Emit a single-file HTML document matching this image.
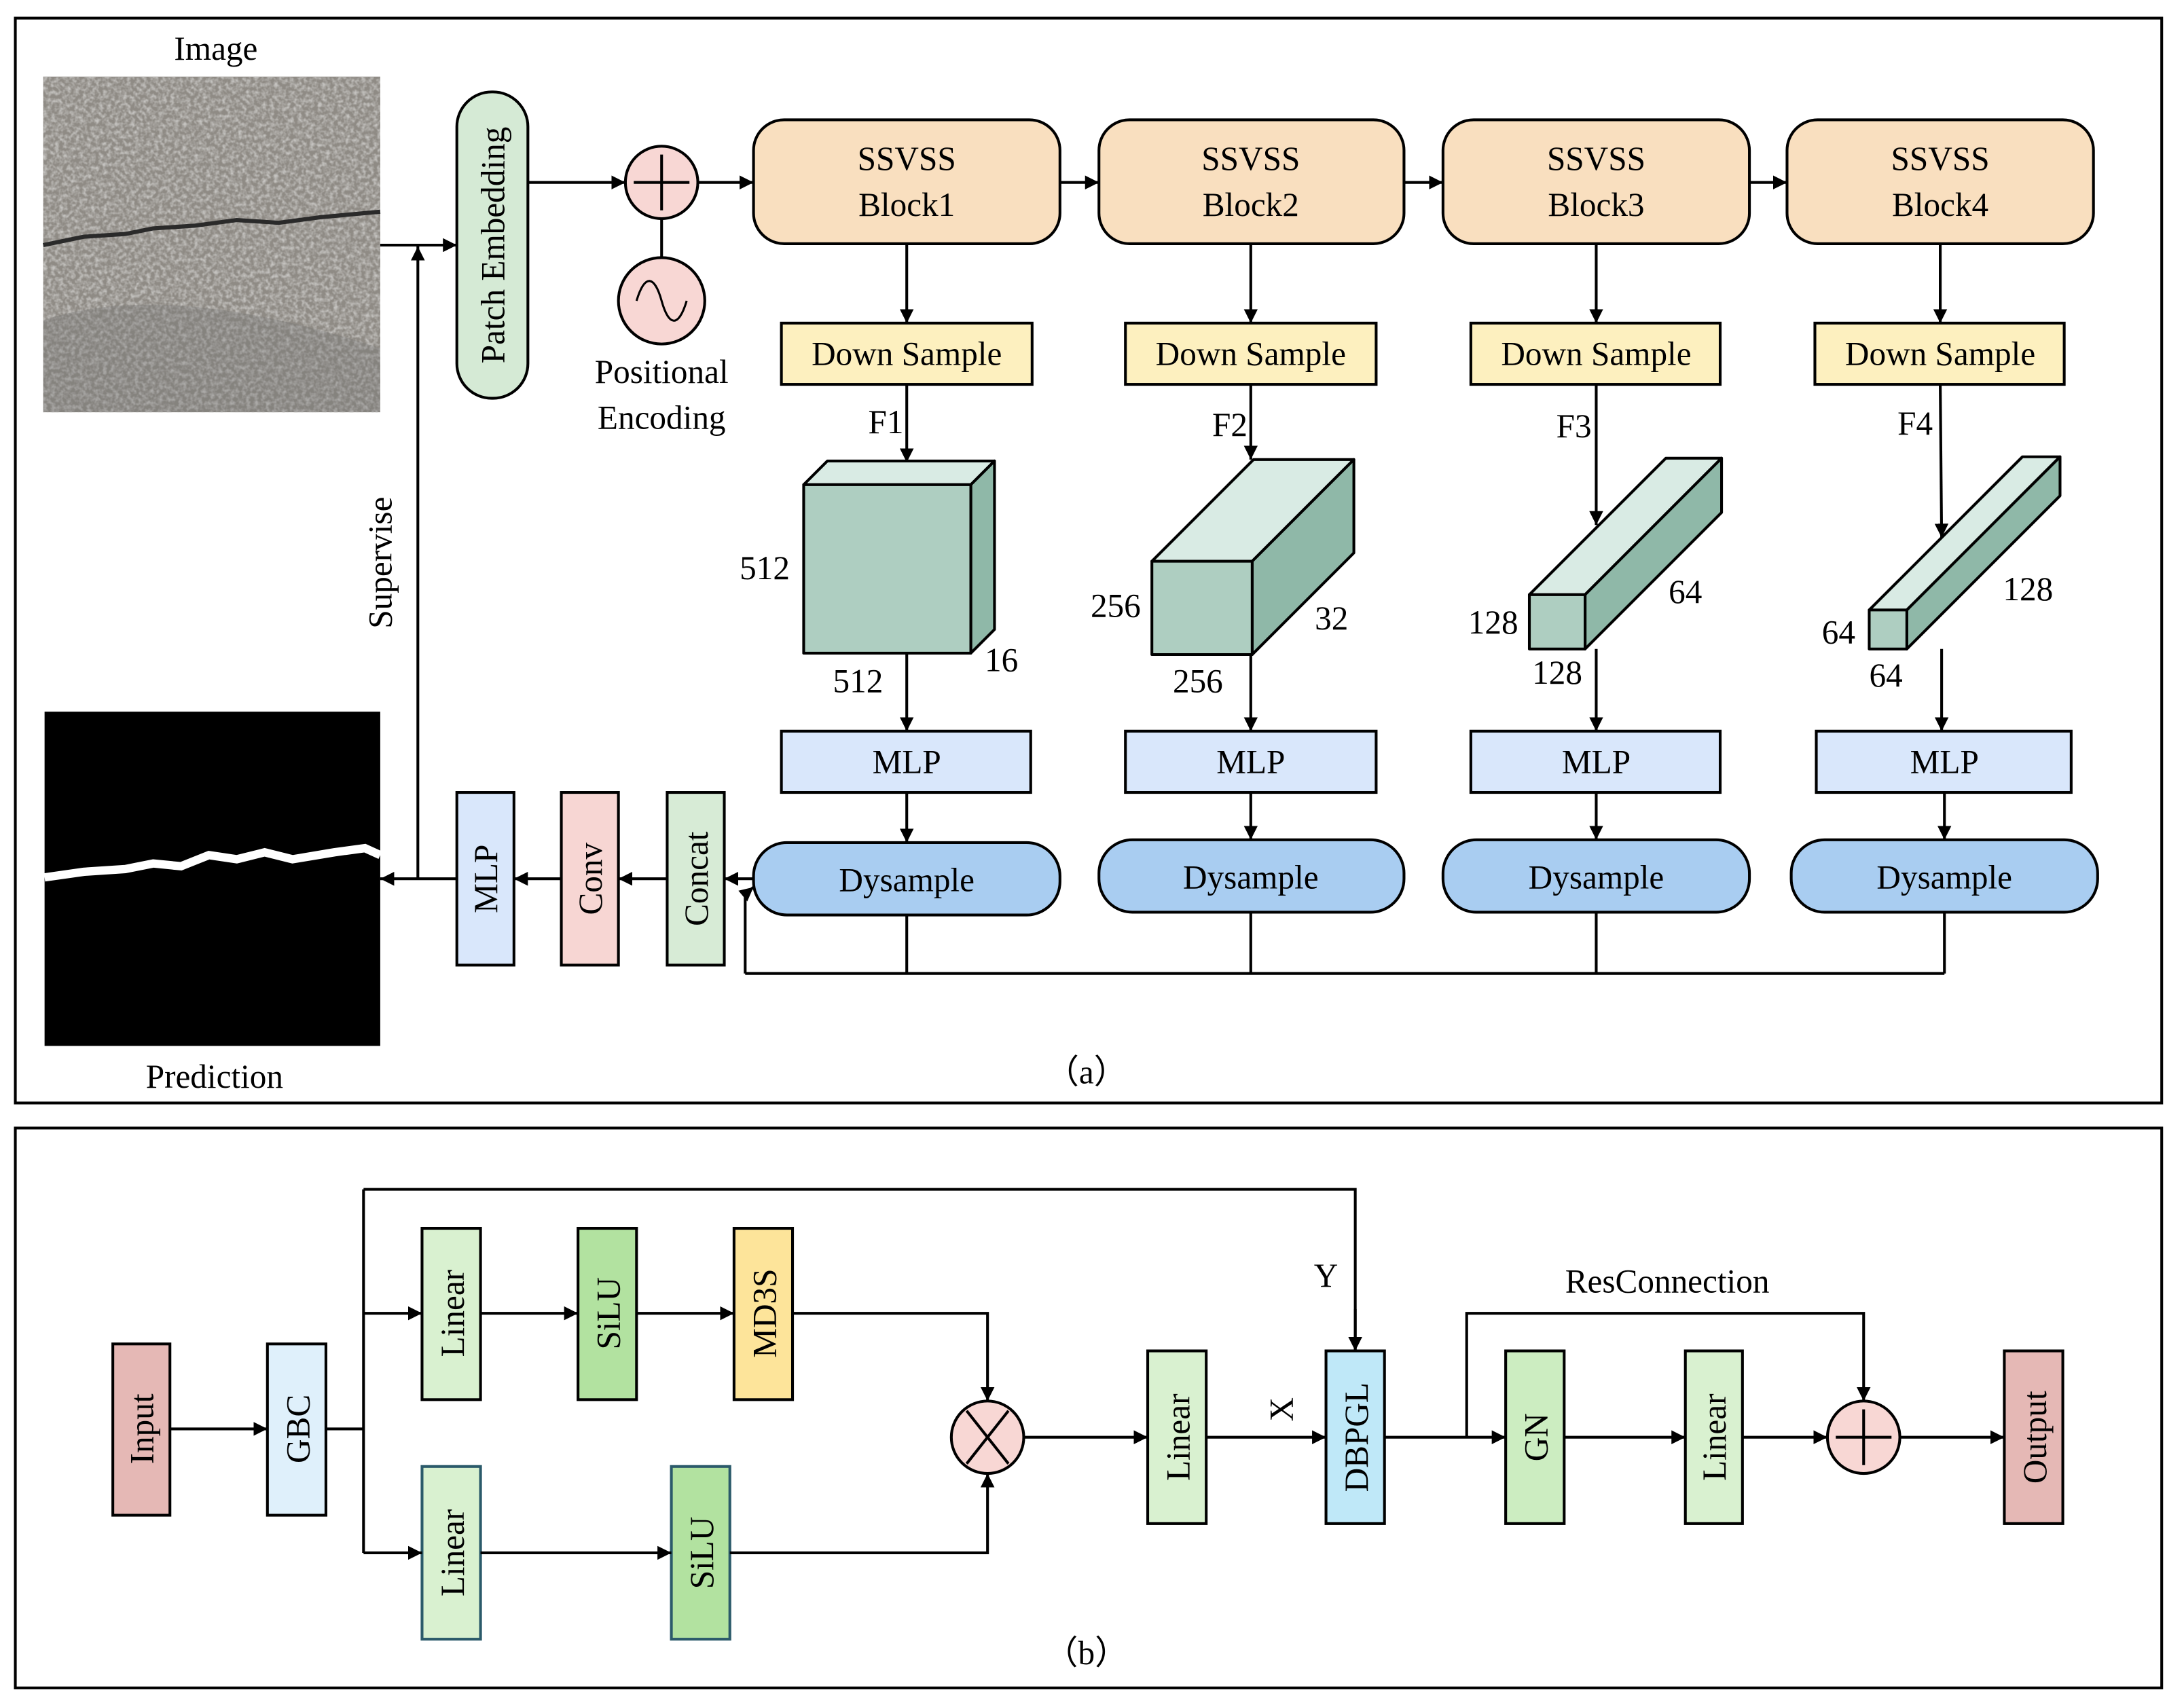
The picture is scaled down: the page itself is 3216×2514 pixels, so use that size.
<!DOCTYPE html>
<html><head><meta charset="utf-8"><style>html,body{margin:0;padding:0;background:#fff}svg{display:block}</style></head>
<body>
<svg width="3216" height="2514" viewBox="0 0 1568 1225.7" preserveAspectRatio="none" xmlns="http://www.w3.org/2000/svg" font-family="Liberation Serif, serif" font-size="24" fill="#000">
<defs>
<marker id="ar" viewBox="0 0 10 10" refX="10" refY="5" markerWidth="10" markerHeight="10" markerUnits="userSpaceOnUse" orient="auto"><path d="M0,0L10,5L0,10z" fill="#000"/></marker>
<filter id="tex" x="0" y="0" width="1" height="1"><feTurbulence type="fractalNoise" baseFrequency="0.35" numOctaves="2" seed="3"/><feColorMatrix type="matrix" values="0 0 0 0 0.55  0 0 0 0 0.54  0 0 0 0 0.52  0 0 0 -2.2 1.4"/></filter>
</defs>
<g stroke="#000" stroke-width="2" fill="none">
<rect x="11" y="13" width="1541" height="779"/>
<rect x="11" y="810" width="1541" height="402"/>
</g>
<rect x="31" y="55" width="242" height="241" fill="#8f8b85"/>
<rect x="31" y="55" width="242" height="241" filter="url(#tex)"/>
<path d="M31,230 Q120,200 273,250 L273,296 L31,296z" fill="#6f6f70" opacity="0.3"/>
<path d="M31,176 L60,170 L90,168 L110,164 L140,162 L170,158 L200,160 L230,156 L273,152" stroke="#2a2a2a" stroke-width="3" fill="none"/>
<text x="155" y="43" text-anchor="middle">Image</text>
<rect x="32" y="511" width="241" height="240" fill="#000"/>
<path d="M32,630 L60,626 L90,624 L110,620 L130,622 L150,614 L170,617 L190,612 L210,617 L240,612 L262,609 L273,614" stroke="#fff" stroke-width="6" fill="none"/>
<text x="154" y="781" text-anchor="middle">Prediction</text>
<rect x="328" y="66" width="51" height="220" rx="25" fill="#d5ead5" stroke="#000" stroke-width="2"/>
<text transform="translate(362,176) rotate(-90)" text-anchor="middle">Patch Embedding</text>
<g stroke="#000" stroke-width="2" fill="none">
<line x1="273" y1="176" x2="328" y2="176" marker-end="url(#ar)"/>
<line x1="300" y1="631" x2="300" y2="177" marker-end="url(#ar)"/>
<line x1="379" y1="131" x2="449" y2="131" marker-end="url(#ar)"/>
<line x1="475" y1="157" x2="475" y2="185"/>
<line x1="501" y1="131" x2="541" y2="131" marker-end="url(#ar)"/>
<line x1="761" y1="131" x2="789" y2="131" marker-end="url(#ar)"/>
<line x1="1008" y1="131" x2="1036" y2="131" marker-end="url(#ar)"/>
<line x1="1256" y1="131" x2="1283" y2="131" marker-end="url(#ar)"/>
</g>
<text transform="translate(281,404) rotate(-90)" text-anchor="middle">Supervise</text>
<circle cx="475" cy="131" r="26" fill="#f8d7d4" stroke="#000" stroke-width="2"/>
<path d="M475,111V151M455,131H495" stroke="#000" stroke-width="2"/>
<circle cx="475" cy="216" r="31" fill="#f8d7d4" stroke="#000" stroke-width="2"/>
<path d="M457,216 C463,196 470,198 475,216 C480,234 487,236 493,216" stroke="#000" stroke-width="1.5" fill="none"/>
<text x="475" y="275" text-anchor="middle">Positional</text>
<text x="475" y="308" text-anchor="middle">Encoding</text>
<g stroke="#000" stroke-width="2">
<rect x="541" y="86" width="220" height="89" rx="22" fill="#f9dfbf"/>
<rect x="789" y="86" width="219" height="89" rx="22" fill="#f9dfbf"/>
<rect x="1036" y="86" width="220" height="89" rx="22" fill="#f9dfbf"/>
<rect x="1283" y="86" width="220" height="89" rx="22" fill="#f9dfbf"/>
<rect x="561" y="232" width="180" height="44" fill="#fdf0bf"/>
<rect x="808" y="232" width="180" height="44" fill="#fdf0bf"/>
<rect x="1056" y="232" width="179" height="44" fill="#fdf0bf"/>
<rect x="1303" y="232" width="179" height="44" fill="#fdf0bf"/>
<rect x="561" y="525" width="179" height="44" fill="#d9e7fb"/>
<rect x="808" y="525" width="180" height="44" fill="#d9e7fb"/>
<rect x="1056" y="525" width="179" height="44" fill="#d9e7fb"/>
<rect x="1304" y="525" width="183" height="44" fill="#d9e7fb"/>
</g>
<g text-anchor="middle">
<text x="651" y="122">SSVSS</text><text x="651" y="155">Block1</text>
<text x="898" y="122">SSVSS</text><text x="898" y="155">Block2</text>
<text x="1146" y="122">SSVSS</text><text x="1146" y="155">Block3</text>
<text x="1393" y="122">SSVSS</text><text x="1393" y="155">Block4</text>
<text x="651" y="262">Down Sample</text><text x="898" y="262">Down Sample</text>
<text x="1146" y="262">Down Sample</text><text x="1393" y="262">Down Sample</text>
<text x="651" y="555">MLP</text><text x="898" y="555">MLP</text>
<text x="1146" y="555">MLP</text><text x="1396" y="555">MLP</text>
<text x="636" y="311">F1</text><text x="883" y="313">F2</text>
<text x="1130" y="314">F3</text><text x="1375" y="312">F4</text>
</g>
<g stroke="#000" stroke-width="2" fill="none">
<line x1="651" y1="175" x2="651" y2="232" marker-end="url(#ar)"/>
<line x1="898" y1="175" x2="898" y2="232" marker-end="url(#ar)"/>
<line x1="1146" y1="175" x2="1146" y2="232" marker-end="url(#ar)"/>
<line x1="1393" y1="175" x2="1393" y2="232" marker-end="url(#ar)"/>
<line x1="651" y1="276" x2="651" y2="332" marker-end="url(#ar)"/>
<line x1="898" y1="276" x2="898" y2="330" marker-end="url(#ar)"/>
<line x1="1146" y1="276" x2="1146" y2="377" marker-end="url(#ar)"/>
<line x1="1393" y1="276" x2="1394" y2="386" marker-end="url(#ar)"/>
<line x1="651" y1="469" x2="651" y2="525" marker-end="url(#ar)"/>
<line x1="898" y1="470" x2="898" y2="525" marker-end="url(#ar)"/>
<line x1="1146" y1="466" x2="1146" y2="525" marker-end="url(#ar)"/>
<line x1="1394" y1="466" x2="1394" y2="525" marker-end="url(#ar)"/>
<line x1="651" y1="569" x2="651" y2="605" marker-end="url(#ar)"/>
<line x1="898" y1="569" x2="898" y2="603" marker-end="url(#ar)"/>
<line x1="1146" y1="569" x2="1146" y2="603" marker-end="url(#ar)"/>
<line x1="1396" y1="569" x2="1396" y2="603" marker-end="url(#ar)"/>
</g>
<g stroke="#000" stroke-width="2" stroke-linejoin="round">
<path d="M577,348 L594,331 L714,331 L697,348z" fill="#d9ebe4"/>
<path d="M697,348 L714,331 L714,452 L697,469z" fill="#8fb8a8"/>
<rect x="577" y="348" width="120" height="121" fill="#aecec1"/>
<path d="M827,403 L900,330 L972,330 L899,403z" fill="#d9ebe4"/>
<path d="M899,403 L972,330 L972,397 L899,470z" fill="#8fb8a8"/>
<rect x="827" y="403" width="72" height="67" fill="#aecec1"/>
<path d="M1098,427 L1196,329 L1236,329 L1138,427z" fill="#d9ebe4"/>
<path d="M1138,427 L1236,329 L1236,368 L1138,466z" fill="#8fb8a8"/>
<rect x="1098" y="427" width="40" height="39" fill="#aecec1"/>
<path d="M1342,438 L1452,328 L1479,328 L1369,438z" fill="#d9ebe4"/>
<path d="M1369,438 L1479,328 L1479,356 L1369,466z" fill="#8fb8a8"/>
<rect x="1342" y="438" width="27" height="28" fill="#aecec1"/>
</g>
<g text-anchor="middle">
<text x="549" y="416">512</text><text x="616" y="497">512</text><text x="719" y="482">16</text>
<text x="801" y="443">256</text><text x="860" y="497">256</text><text x="956" y="452">32</text>
<text x="1072" y="455">128</text><text x="1118" y="491">128</text><text x="1210" y="433">64</text>
<text x="1320" y="462">64</text><text x="1354" y="493">64</text><text x="1456" y="431">128</text>
</g>
<g stroke="#000" stroke-width="2">
<rect x="541" y="605" width="220" height="52" rx="24" fill="#a9cdf1"/>
<rect x="789" y="603" width="219" height="52" rx="24" fill="#a9cdf1"/>
<rect x="1036" y="603" width="220" height="52" rx="24" fill="#a9cdf1"/>
<rect x="1286" y="603" width="220" height="52" rx="24" fill="#a9cdf1"/>
<rect x="479" y="569" width="41" height="124" fill="#d7ebd6"/>
<rect x="403" y="569" width="41" height="124" fill="#f7d6d3"/>
<rect x="328" y="569" width="41" height="124" fill="#d9e7fb"/>
</g>
<g text-anchor="middle">
<text x="651" y="640">Dysample</text><text x="898" y="638">Dysample</text>
<text x="1146" y="638">Dysample</text><text x="1396" y="638">Dysample</text>
<text transform="translate(508,631) rotate(-90)">Concat</text>
<text transform="translate(432,631) rotate(-90)">Conv</text>
<text transform="translate(357,631) rotate(-90)">MLP</text>
<text x="780" y="778">（a）</text>
</g>
<g stroke="#000" stroke-width="2" fill="none">
<path d="M651,657V699M898,655V699M1146,655V699M1396,655V699M535,699H1396"/>
<path d="M535,699V642L541,637" marker-end="url(#ar)"/>
<line x1="541" y1="631" x2="520" y2="631" marker-end="url(#ar)"/>
<line x1="479" y1="631" x2="444" y2="631" marker-end="url(#ar)"/>
<line x1="403" y1="631" x2="369" y2="631" marker-end="url(#ar)"/>
<line x1="328" y1="631" x2="273" y2="631" marker-end="url(#ar)"/>
</g>
<g stroke="#000" stroke-width="2">
<rect x="81" y="965" width="41" height="123" fill="#e5b8b5"/>
<rect x="192" y="965" width="42" height="123" fill="#dff0fb"/>
<rect x="303" y="882" width="42" height="123" fill="#d9f1d0"/>
<rect x="415" y="882" width="42" height="123" fill="#b2e2a0"/>
<rect x="527" y="882" width="42" height="123" fill="#fde49a"/>
<rect x="303" y="1053" width="42" height="124" fill="#d9f1d0" stroke="#2b5a6a"/>
<rect x="482" y="1053" width="42" height="124" fill="#b2e2a0" stroke="#2b5a6a"/>
<rect x="824" y="970" width="42" height="124" fill="#d9f1d0"/>
<rect x="952" y="970" width="42" height="124" fill="#bfe8f8"/>
<rect x="1081" y="970" width="42" height="124" fill="#ccedc1"/>
<rect x="1210" y="970" width="41" height="124" fill="#d9f1d0"/>
<rect x="1439" y="970" width="42" height="124" fill="#e5b8b5"/>
<circle cx="709" cy="1032" r="26" fill="#f8d7d4"/>
<circle cx="1338" cy="1032" r="26" fill="#f8d7d4"/>
</g>
<path d="M694,1013L724,1051M724,1013L694,1051M1338,1012V1052M1318,1032H1358" stroke="#000" stroke-width="2"/>
<g text-anchor="middle">
<text transform="translate(110,1026) rotate(-90)">Input</text>
<text transform="translate(222,1026) rotate(-90)">GBC</text>
<text transform="translate(333,943) rotate(-90)">Linear</text>
<text transform="translate(445,943) rotate(-90)">SiLU</text>
<text transform="translate(557,943) rotate(-90)">MD3S</text>
<text transform="translate(333,1115) rotate(-90)">Linear</text>
<text transform="translate(512,1115) rotate(-90)">SiLU</text>
<text transform="translate(854,1032) rotate(-90)">Linear</text>
<text transform="translate(982,1032) rotate(-90)">DBPGL</text>
<text transform="translate(1111,1032) rotate(-90)">GN</text>
<text transform="translate(1239,1032) rotate(-90)">Linear</text>
<text transform="translate(1469,1032) rotate(-90)">Output</text>
<text transform="translate(928,1012) rotate(-90)">X</text>
<text x="952" y="924">Y</text>
<text x="1197" y="928">ResConnection</text>
<text x="780" y="1195">（b）</text>
</g>
<g stroke="#000" stroke-width="2" fill="none">
<line x1="122" y1="1026" x2="192" y2="1026" marker-end="url(#ar)"/>
<path d="M234,1026H261M261,854V1115M261,854H973V970" />
<line x1="973" y1="940" x2="973" y2="970" marker-end="url(#ar)"/>
<line x1="261" y1="943" x2="303" y2="943" marker-end="url(#ar)"/>
<line x1="345" y1="943" x2="415" y2="943" marker-end="url(#ar)"/>
<line x1="457" y1="943" x2="527" y2="943" marker-end="url(#ar)"/>
<path d="M569,943H709V1006" marker-end="url(#ar)"/>
<line x1="261" y1="1115" x2="303" y2="1115" marker-end="url(#ar)"/>
<line x1="345" y1="1115" x2="482" y2="1115" marker-end="url(#ar)"/>
<path d="M524,1115H709V1058" marker-end="url(#ar)"/>
<line x1="735" y1="1032" x2="824" y2="1032" marker-end="url(#ar)"/>
<line x1="866" y1="1032" x2="952" y2="1032" marker-end="url(#ar)"/>
<line x1="994" y1="1032" x2="1081" y2="1032" marker-end="url(#ar)"/>
<path d="M1053,1032V943H1338V1006" marker-end="url(#ar)"/>
<line x1="1123" y1="1032" x2="1210" y2="1032" marker-end="url(#ar)"/>
<line x1="1251" y1="1032" x2="1312" y2="1032" marker-end="url(#ar)"/>
<line x1="1364" y1="1032" x2="1439" y2="1032" marker-end="url(#ar)"/>
</g>
</svg>
</body></html>
